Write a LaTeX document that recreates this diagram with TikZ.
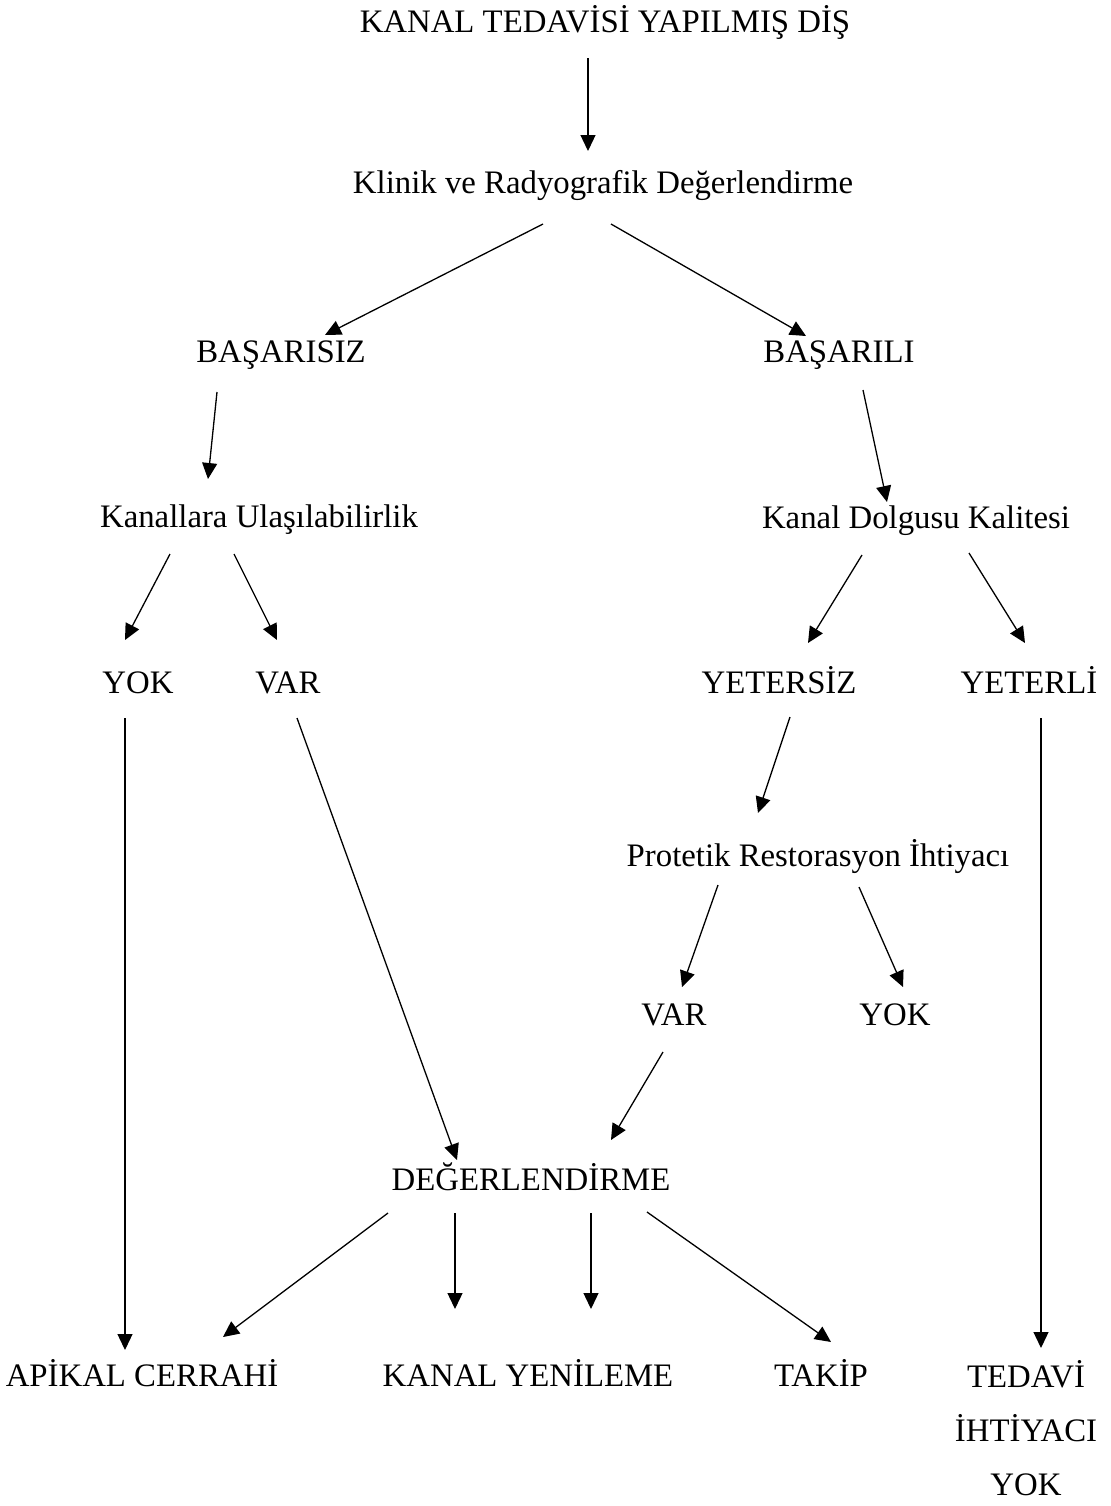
\documentclass[tikz,border=0pt]{standalone}
\usepackage{fontspec}
\setmainfont{Liberation Serif}
\usetikzlibrary{arrows.meta,calc}
\begin{document}
\begin{tikzpicture}[x=0.5pt, y=-0.5pt,
  every node/.style={font=\fontsize{16.4}{27}\selectfont, inner sep=0pt, anchor=base},
  arr/.style={line width=0.65pt, -{Triangle[length=8pt,width=7.5pt]}}]
  \useasboundingbox (0,0) rectangle (1110,1506);
  % nodes
  \node (kanal) at (605,32) {KANAL TEDAVİSİ YAPILMIŞ DİŞ};
  \node (klinik) at (603,193) {Klinik ve Radyografik Değerlendirme};
  \node (basarisiz) at (281,362) {BAŞARISIZ};
  \node (basarili) at (839,362) {BAŞARILI};
  \node (ulasim) at (259,527) {Kanallara Ulaşılabilirlik};
  \node (dolgu) at (916,528) {Kanal Dolgusu Kalitesi};
  \node (yok1) at (138,693) {YOK};
  \node (var1) at (288,693) {VAR};
  \node (yetersiz) at (779,693) {YETERSİZ};
  \node (yeterli) at (1029,693) {YETERLİ};
  \node (protetik) at (818,866) {Protetik Restorasyon İhtiyacı};
  \node (var2) at (674,1025) {VAR};
  \node (yok2) at (895,1025) {YOK};
  \node (degerl) at (531,1190) {DEĞERLENDİRME};
  \node (apikal) at (142,1386) {APİKAL CERRAHİ};
  \node (yenileme) at (528,1386) {KANAL YENİLEME};
  \node (takip) at (821,1386) {TAKİP};
  \node[align=center] (tedavi) at (1026,1495) {TEDAVİ\\İHTİYACI\\YOK};
  % arrows
  \draw[arr] ($(kanal.base)+(-17,26)$) -- ($(klinik.base)+(-15,-42)$);
  \draw[arr] ($(klinik.base)+(-60,31)$) -- ($(basarisiz.base)+(44,-27)$);
  \draw[arr] ($(klinik.base)+(8,31)$) -- ($(basarili.base)+(-33,-26)$);
  \draw[arr] ($(basarisiz.base)+(-64,30)$) -- ($(ulasim.base)+(-51,-48)$);
  \draw[arr] ($(basarili.base)+(24,28)$) -- ($(dolgu.base)+(-29,-26)$);
  \draw[arr] ($(ulasim.base)+(-89,27)$) -- ($(yok1.base)+(-13,-53)$);
  \draw[arr] ($(ulasim.base)+(-25,27)$) -- ($(var1.base)+(-11,-53)$);
  \draw[arr] ($(dolgu.base)+(-54,27)$) -- ($(yetersiz.base)+(29,-50)$);
  \draw[arr] ($(dolgu.base)+(53,25)$) -- ($(yeterli.base)+(-4,-50)$);
  \draw[arr] ($(yok1.base)+(-13,25)$) -- ($(apikal.base)+(-17,-36)$);
  \draw[arr] ($(var1.base)+(9,25)$) -- ($(degerl.base)+(-74,-30)$);
  \draw[arr] ($(yetersiz.base)+(11,24)$) -- ($(protetik.base)+(-60,-53)$);
  \draw[arr] ($(yeterli.base)+(12,25)$) -- ($(tedavi.base)+(15,-147)$);
  \draw[arr] ($(protetik.base)+(-100,19)$) -- ($(var2.base)+(8,-38)$);
  \draw[arr] ($(protetik.base)+(41,21)$) -- ($(yok2.base)+(8,-38)$);
  \draw[arr] ($(var2.base)+(-11,27)$) -- ($(degerl.base)+(80,-50)$);
  \draw[arr] ($(degerl.base)+(-143,23)$) -- ($(apikal.base)+(81,-49)$);
  \draw[arr] ($(degerl.base)+(-76,23)$) -- ($(yenileme.base)+(-73,-77)$);
  \draw[arr] ($(degerl.base)+(60,23)$) -- ($(yenileme.base)+(63,-77)$);
  \draw[arr] ($(degerl.base)+(116,22)$) -- ($(takip.base)+(10,-44)$);
\end{tikzpicture}
\end{document}
